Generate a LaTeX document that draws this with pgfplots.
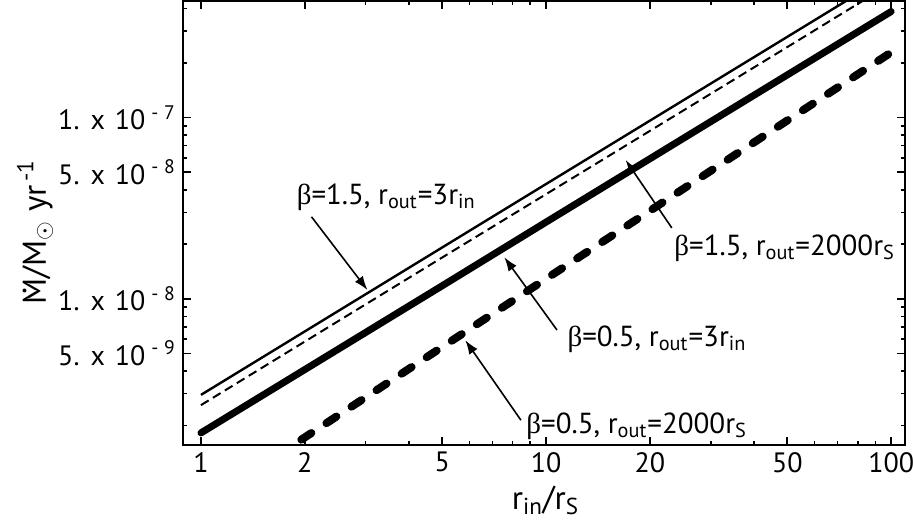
\documentclass[border=0pt]{standalone}
\usepackage{pgfplots}
\pgfplotsset{compat=1.18}
\usepackage{fontspec}
\setmainfont{PT Sans}
\newfontfamily\greekfont{Liberation Serif}
\usetikzlibrary{arrows.meta,calc}
\newcommand{\B}{{\greekfont β}}
\newcommand{\Mdot}{\leavevmode\rlap{\hbox to \fontcharwd\font`M{\hss\raisebox{0.6em}{.}\hss}}M}
\newcommand{\ytl}[2]{#1.\hspace{0.4em}x\hspace{0.35em}10\textsuperscript{\hspace{0.3em}-\hspace{0.3em}#2}}
\newcommand{\af}{\fontsize{14.5}{16}\selectfont}
\begin{document}
\begin{tikzpicture}
\begin{axis}[
 scale only axis, width=361pt, height=222pt,
 xmode=log, ymode=log,
 xmin=0.887, xmax=109.7, ymin=1.56e-9, ymax=4.4e-7,
 axis line style={line width=1.2pt},
 tick style={line width=0.8pt, black},
 tick align=inside,
 major tick length=4pt, minor tick length=2pt,
 xtick={1,2,5,10,20,50,100},
 xticklabels={1,2,5,10,20,50,100},
 minor xtick={3,4,6,7,8,9,30,40,60,70,80,90},
 ytick={5e-9,1e-8,5e-8,1e-7},
 yticklabels={{\ytl{5}{9}},{\ytl{1}{8}},{\ytl{5}{8}},{\ytl{1}{7}}},
 minor ytick={2e-9,3e-9,4e-9,6e-9,7e-9,8e-9,9e-9,2e-8,3e-8,4e-8,6e-8,7e-8,8e-8,9e-8,2e-7,3e-7,4e-7},
 ticklabel style={font=\fontsize{14}{16}\selectfont},
 xlabel={r\textsubscript{in}/r\textsubscript{S}},
 ylabel={\Mdot/M$_{\odot}$ yr\textsuperscript{\,-1}},
 label style={font=\fontsize{16.5}{18}\selectfont},
 xlabel style={at={(axis description cs:0.502,-0.124)}, anchor=center},
 ylabel style={at={(axis description cs:-0.205,0.48)}, anchor=center},
]
% beta=1.5, rout=3 rin (thin solid)
\addplot[black, line width=1.2pt] coordinates {
 (1,2.95e-9) (2,6.61e-9) (5,1.92e-8) (10,4.30e-8) (20,9.62e-8) (50,2.79e-7) (100,6.25e-7)};
% beta=1.5, rout=2000 rS (thin dashed)
\addplot[black, line width=1pt, dash pattern=on 4.5pt off 2.5pt] coordinates {
 (1,2.59e-9) (2,5.81e-9) (5,1.69e-8) (10,3.78e-8) (20,8.45e-8) (50,2.45e-7) (100,5.50e-7)};
% beta=0.5, rout=3 rin (thick solid)
\addplot[black, line width=3.5pt, line cap=round] coordinates {
 (1,1.82e-9) (2,4.07e-9) (5,1.18e-8) (10,2.65e-8) (20,5.93e-8) (50,1.72e-7) (100,3.85e-7)};
% beta=0.5, rout=2000 rS (thick dashed)
\addplot[black, line width=4pt, line cap=round, dash pattern=on 6pt off 9pt] coordinates {
 (1,7.24e-10) (2,1.72e-9) (5,5.42e-9) (10,1.29e-8) (20,3.06e-8) (50,9.64e-8) (100,2.29e-7)};

\coordinate (bl) at (rel axis cs:0,0);
\coordinate (tr) at (rel axis cs:1,1);

\node[anchor=west, inner sep=0pt, font=\af] at (rel axis cs:0.157,0.559) {\B=1.5, r\textsubscript{out}=3r\textsubscript{in}};
\node[anchor=west, inner sep=0pt, font=\af] at (rel axis cs:0.680,0.444) {\B=1.5, r\textsubscript{out}=2000r\textsubscript{S}};
\node[anchor=west, inner sep=0pt, font=\af] at (rel axis cs:0.532,0.239) {\B=0.5, r\textsubscript{out}=3r\textsubscript{in}};
\node[anchor=west, inner sep=0pt, font=\af] at (rel axis cs:0.475,0.043) {\B=0.5, r\textsubscript{out}=2000r\textsubscript{S}};
\begin{scope}[line width=0.8pt, -{Latex[length=7pt,width=5pt]}]
\draw (rel axis cs:0.178,0.514) -- (rel axis cs:0.2555,0.349);
\draw (rel axis cs:0.677,0.489) -- (rel axis cs:0.613,0.642);
\draw (rel axis cs:0.518,0.259) -- (rel axis cs:0.445,0.423);
\draw (rel axis cs:0.468,0.056) -- (rel axis cs:0.391,0.236);
\end{scope}
\end{axis}
\pgfresetboundingbox
\path ($(bl)+(-91.5pt,-41.5pt)$) rectangle ($(tr)+(4pt,0.5pt)$);
\end{tikzpicture}
\end{document}
